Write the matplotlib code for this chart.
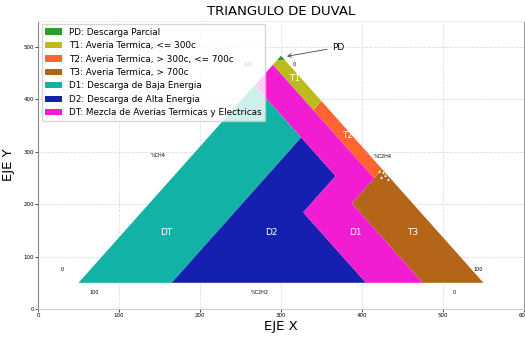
import matplotlib
matplotlib.use("Agg")
import matplotlib.pyplot as plt
import numpy as np

# zonas de Duval en % (CH4, C2H4, C2H2)
ZONE_NAMES = ["PD", "T1", "T2", "T3", "D1", "D2", "DT"]
ZONE_LABELS = [
    "PD: Descarga Parcial",
    "T1: Averia Termica, <= 300c",
    "T2: Averia Termica, > 300c, <= 700c",
    "T3: Averia Termica, > 700c",
    "D1: Descarga de Baja Energia",
    "D2: Descarga de Alta Energia",
    "DT: Mezcla de Averias Termicas y Electricas",
]
ZONE_COLORS = ["#2e9b2f", "#bdbb1c", "#fe6530", "#b46518", "#12b3a6", "#1520b0", "#f21cd2"]
PD = [(98, 0, 2), (100, 0, 0), (98, 2, 0)]
T1 = [(98, 0, 2), (98, 2, 0), (80, 20, 0), (76, 20, 4), (96, 0, 4)]
T2 = [(80, 20, 0), (50, 50, 0), (46, 50, 4), (76, 20, 4)]
T3 = [(50, 50, 0), (0, 100, 0), (0, 85, 15), (35, 50, 15)]
D1 = [(0, 0, 100), (0, 23, 77), (64, 23, 13), (87, 0, 13)]
D2 = [(0, 23, 77), (0, 71, 29), (31, 40, 29), (47, 40, 13), (64, 23, 13)]
DT = [(96, 0, 4), (87, 0, 13), (64, 23, 13), (47, 40, 13), (31, 40, 29),
      (0, 71, 29), (0, 85, 15), (35, 50, 15), (46, 50, 4)]
ZONES = [PD, T1, T2, T3, D1, D2, DT]

# etiquetas dentro del triangulo (x, y en ejes)
REGION_TEXT = ["T1", "T2", "T3", "D1", "D2", "DT"]
REGION_X = [317, 382, 463, 392, 288, 158]
REGION_Y = [440, 331, 145, 145, 145, 145]

SIDE_TEXT = ["%CH4", "%C2H4", "%C2H2", "100", "0", "0", "100", "0", "100"]
SIDE_X = [148, 426, 274, 260, 316, 30, 69, 514, 544]
SIDE_Y = [292, 291, 31, 466, 466, 76, 31, 31, 76]

# puntos medidos (blancos, cerca del limite T2/T3)
PTS_X = [421, 426, 429, 424, 432]
PTS_Y = [263, 261, 255, 251, 248]

ORIGIN = (50, 50)
SIDE = 500


def to_xy(p):
    ch4, c2h4, c2h2 = [v / 100 for v in p]
    x = ORIGIN[0] + SIDE * (c2h4 + 0.5 * ch4)
    y = ORIGIN[1] + SIDE * np.sqrt(3) / 2 * ch4
    return x, y


fig = plt.figure(figsize=(5.25, 3.37), dpi=100)
ax = fig.add_axes([0.0724, 0.083, 0.9256, 0.856])

for pts, lab, col in zip(ZONES, ZONE_LABELS, ZONE_COLORS):
    xy = np.array([to_xy(p) for p in pts])
    ax.fill(xy[:, 0], xy[:, 1], color=col, label=lab, lw=0, zorder=2)

for t, x, y in zip(REGION_TEXT, REGION_X, REGION_Y):
    ax.text(x, y, t, color="white", fontsize=6.5, ha="center", va="center", zorder=3)

for t, x, y in zip(SIDE_TEXT, SIDE_X, SIDE_Y):
    ax.text(x, y, t, fontsize=3.5, ha="center", va="center", zorder=3)

ax.scatter(PTS_X, PTS_Y, marker="^", s=4, color="white", lw=0, zorder=4)

apex = to_xy((100, 0, 0))
ax.annotate("PD", xy=(apex[0] + 4, apex[1] - 2), xytext=(371, 499), fontsize=6.5,
            va="center", ha="center",
            arrowprops=dict(arrowstyle="->", color="#444444", lw=0.6), zorder=5)

ax.set_xlim(0, 600)
ax.set_ylim(0, 550)
ax.set_title("TRIANGULO DE DUVAL", fontsize=9.5, pad=4)
ax.set_xlabel("EJE X", fontsize=9.5, labelpad=1)
ax.set_ylabel("EJE Y", fontsize=9.5, labelpad=6)
ax.tick_params(labelsize=4, length=2, width=0.5, pad=1)
ax.grid(True, linestyle="--", color="#dddddd", lw=0.6, zorder=0)
ax.set_axisbelow(True)
ax.spines["left"].set_color("#888888")
ax.spines["right"].set_color("#999999")
ax.spines["top"].set_color("#eeeeee")
ax.spines["bottom"].set_color("#cccccc")

ax.legend(loc="upper left", fontsize=6.4, framealpha=0.8, borderaxespad=0.4,
          handlelength=1.9, labelspacing=0.5)

fig.savefig("out.png", dpi=100)
